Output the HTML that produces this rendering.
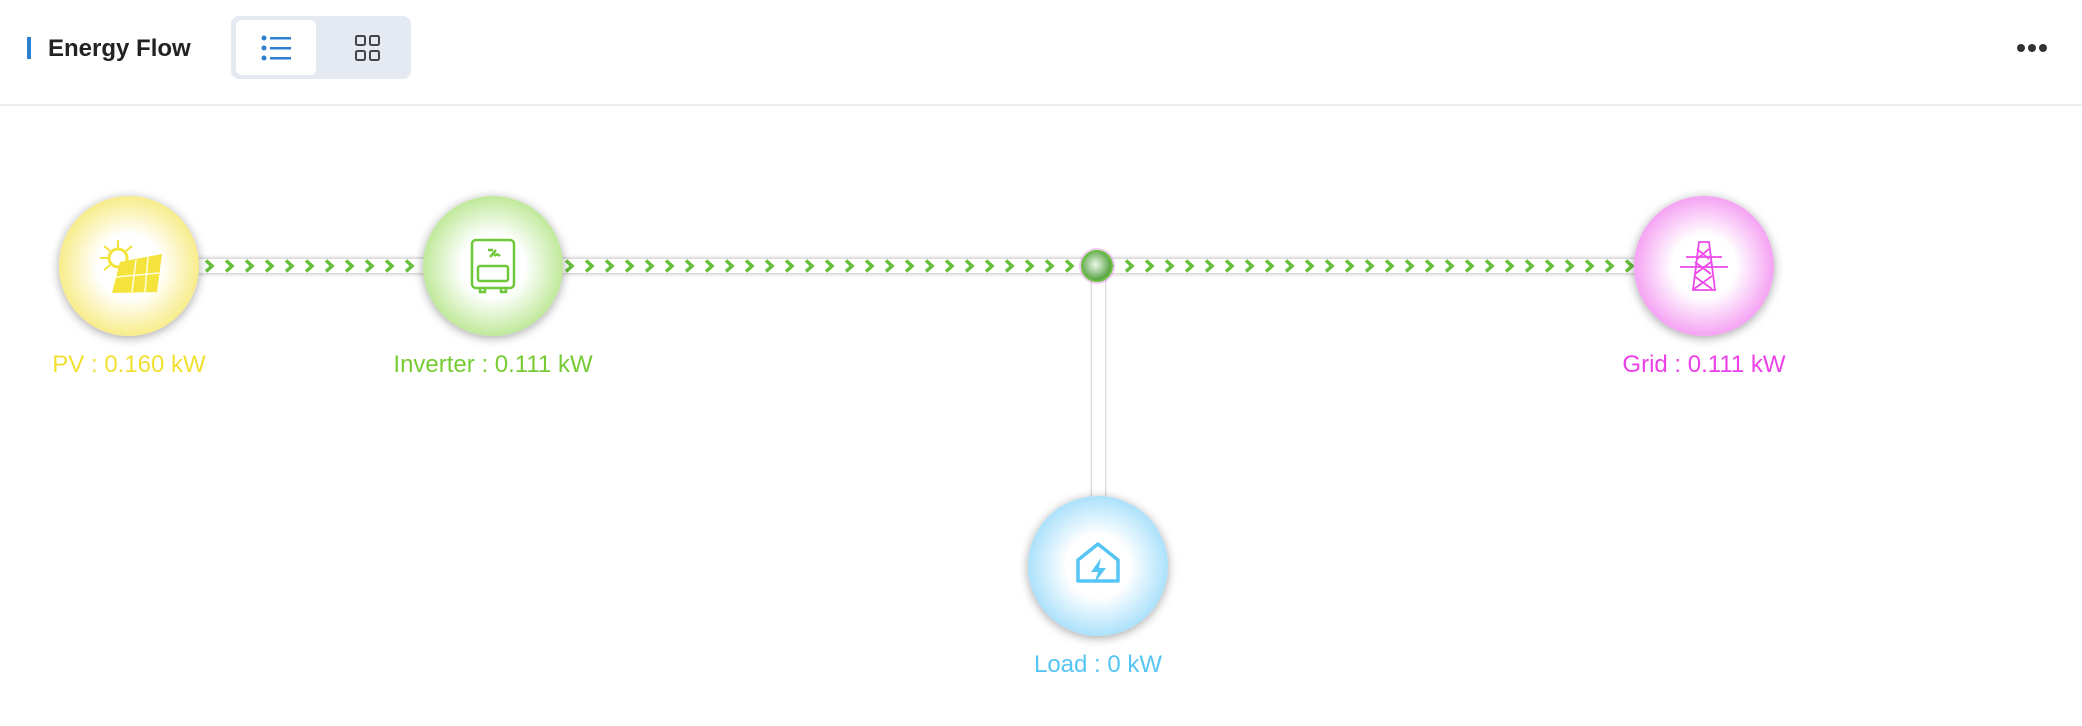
<!DOCTYPE html>
<html><head><meta charset="utf-8"><style>
body{margin:0;width:2082px;height:726px;background:#fff;font-family:"Liberation Sans",sans-serif;position:relative;overflow:hidden}
.bar{position:absolute;left:27px;top:37px;width:4px;height:22px;background:#2f7fd0}
.title{position:absolute;left:48px;top:35px;font-size:24px;font-weight:bold;color:#222}
.tog{position:absolute;left:231px;top:16px;width:180px;height:63px;background:#e5e9f1;border-radius:8px}
.act{position:absolute;left:5px;top:4px;width:80px;height:55px;background:#fff;border-radius:6px}
.div{position:absolute;left:0;top:104px;width:2082px;height:2px;background:#e9edf2}
.lbl{position:absolute;font-size:24px;transform:translateX(-50%);white-space:nowrap}
</style></head><body>
<div class="bar"></div><div class="title">Energy Flow</div>
<div class="tog"><div class="act"></div>
<svg style="position:absolute;left:0;top:0" width="180" height="63">
<g fill="#2f7fd0"><circle cx="33" cy="22" r="2.5"/><circle cx="33" cy="32" r="2.5"/><circle cx="33" cy="42" r="2.5"/>
<rect x="39" y="21" width="21" height="2.5"/><rect x="39" y="31" width="21" height="2.5"/><rect x="39" y="41" width="21" height="2.5"/></g>
<g fill="none" stroke="#444" stroke-width="2"><rect x="125" y="20" width="9" height="9" rx="1.5"/><rect x="139" y="20" width="9" height="9" rx="1.5"/><rect x="125" y="35" width="9" height="9" rx="1.5"/><rect x="139" y="35" width="9" height="9" rx="1.5"/></g>
</svg></div>
<svg style="position:absolute;left:2016px;top:41px" width="32" height="14"><g fill="#333"><circle cx="5" cy="7" r="4"/><circle cx="16" cy="7" r="4"/><circle cx="27" cy="7" r="4"/></g></svg>
<div class="div"></div>
<svg style="position:absolute;left:0;top:0" width="2082" height="726">
<defs>
<pattern id="chev" x="0" y="259" width="20" height="14" patternUnits="userSpaceOnUse">
<path d="M6 1.5 L12 7 L6 12.5" fill="none" stroke="#66bf3a" stroke-width="3.5"/></pattern>
<filter id="sh" x="-50%" y="-50%" width="200%" height="200%"><feDropShadow dx="0" dy="2" stdDeviation="5" flood-color="#000" flood-opacity="0.35"/></filter>
<filter id="ls" x="-10%" y="-100%" width="120%" height="300%"><feDropShadow dx="0" dy="0" stdDeviation="2.5" flood-color="#000" flood-opacity="0.35"/></filter>
<radialGradient id="gy"><stop offset="0.45" stop-color="#fff"/><stop offset="1" stop-color="#f8ec8a"/></radialGradient>
<radialGradient id="gg"><stop offset="0.45" stop-color="#fff"/><stop offset="1" stop-color="#bfe99a"/></radialGradient>
<radialGradient id="gm"><stop offset="0.45" stop-color="#fff"/><stop offset="1" stop-color="#f5a2f3"/></radialGradient>
<radialGradient id="gb"><stop offset="0.45" stop-color="#fff"/><stop offset="1" stop-color="#abe1fb"/></radialGradient>
<radialGradient id="gj" cx="0.45" cy="0.45"><stop offset="0" stop-color="#eef8ea"/><stop offset="1" stop-color="#5aa648"/></radialGradient>
</defs>
<rect x="1092" y="266" width="13" height="300" fill="#fff" filter="url(#ls)"/>
<rect x="190" y="259" width="1520" height="14" fill="#fff" filter="url(#ls)"/>
<rect x="200" y="259" width="1500" height="14" fill="url(#chev)"/>
<circle cx="1097" cy="266" r="18" fill="#e9a8ec" opacity="0.6"/>
<circle cx="1097" cy="266" r="15" fill="url(#gj)" stroke="#6cc040" stroke-width="2"/>
<circle cx="129" cy="266" r="70" fill="url(#gy)" filter="url(#sh)"/>
<circle cx="493" cy="266" r="70" fill="url(#gg)" filter="url(#sh)"/>
<circle cx="1704" cy="266" r="70" fill="url(#gm)" filter="url(#sh)"/>
<circle cx="1098" cy="566" r="70" fill="url(#gb)" filter="url(#sh)"/>
<g fill="#f4e33a" stroke="#f4e33a">
<circle cx="118" cy="258" r="9" fill="none" stroke-width="3"/>
<g stroke-width="2"><path d="M118 240v8M104 246l6 5M100 258h8M104 270l6-5M132 246l-6 5"/></g>
<path d="M120 262 L162 254 L157 292 L112 293 Z" stroke="none"/>
</g>
<g stroke="#fffbe0" stroke-width="1.5"><path d="M136 260 L132 292M148 257 L145 292M116 277 L159 273"/></g>
<g fill="none" stroke="#6fc83a" stroke-width="2.5"><rect x="472" y="240" width="42" height="48" rx="4"/><rect x="478" y="266" width="30" height="15" rx="2"/><path d="M480 289v3h5v-3M501 289v3h5v-3"/><path d="M488 250h5M490 257l6-7M494 256q3-3 6 0"/></g>
<g fill="none" stroke="#ee48ec" stroke-width="1.8"><path d="M1699 242h10l6 48h-22z"/><path d="M1686 257h36M1680 267h48M1697 249l12 10M1709 249l-12 10M1695 262l16 12M1711 262l-16 12M1694 276l18 13M1712 276l-18 13"/></g>
<g><path d="M1098 544 L1078 560 V581 H1118 V560 Z" fill="none" stroke="#55c5f5" stroke-width="3.5" stroke-linejoin="round"/><path d="M1101 558 L1091 572 H1098 L1094 584 L1106 568 H1099 Z" fill="#55c5f5"/></g>
</svg>
<div class="lbl" style="left:129px;top:351px;color:#f2e030">PV : 0.160 kW</div>
<div class="lbl" style="left:493px;top:351px;color:#76cc32">Inverter : 0.111 kW</div>
<div class="lbl" style="left:1704px;top:351px;color:#ec40e8">Grid : 0.111 kW</div>
<div class="lbl" style="left:1098px;top:651px;color:#55c5f5">Load : 0 kW</div>
</body></html>
